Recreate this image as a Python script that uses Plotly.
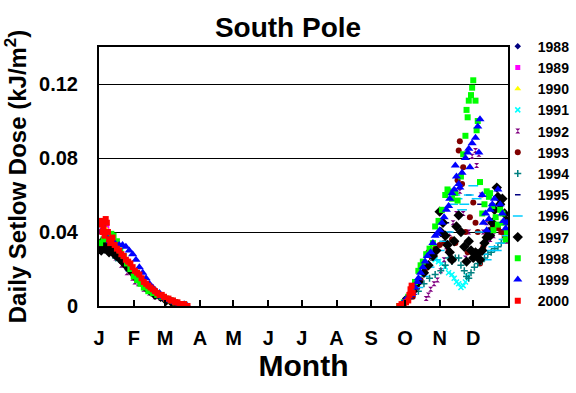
import plotly.graph_objects as go

# ---- axis labels ----
month_days = [0, 31, 59, 90, 120, 151, 181, 212, 243, 273, 304, 334]
month_labels = ["J", "F", "M", "A", "M", "J", "J", "A", "S", "O", "N", "D"]
y_ticks = [0, 0.04, 0.08, 0.12]
y_ticktext = ["0", "0.04", "0.08", "0.12"]

years = ["1988", "1989", "1990", "1991", "1992", "1993", "1994", "1995",
         "1996", "1997", "1998", "1999", "2000"]

# ---- data: day of year, daily Setlow dose (kJ/m2) ----
d1988_day = [2, 5, 8, 12, 16]
d1988_val = [0.032, 0.034, 0.031, 0.030, 0.028]

d1989_day = [3, 7, 11, 40, 46]
d1989_val = [0.041, 0.043, 0.035, 0.013, 0.010]

d1990_day = [2, 6, 10, 42, 50]
d1990_val = [0.044, 0.042, 0.034, 0.012, 0.009]

d1991_day = [1, 5, 10, 300, 303, 306, 309, 312, 315, 317, 319, 321, 323, 325, 327, 329]
d1991_val = [0.030, 0.031, 0.029, 0.025, 0.024, 0.023, 0.021, 0.018, 0.017, 0.015,
             0.013, 0.012, 0.010, 0.011, 0.013, 0.016]

d1992_day = [1, 5, 10, 15, 20, 25, 30, 32, 35, 40, 45, 50, 55, 60,
             292, 294, 296, 299, 302, 305, 308, 310, 313, 316, 319, 322, 325, 327,
             330, 333, 336, 337, 339, 341, 343, 346, 349, 352, 355, 358, 361, 364]
d1992_val = [0.030, 0.031, 0.029, 0.026, 0.022, 0.018, 0.015, 0.013, 0.012, 0.009,
             0.007, 0.005, 0.004, 0.003,
             0.004, 0.006, 0.009, 0.012, 0.014, 0.019, 0.025, 0.032, 0.039, 0.045,
             0.050, 0.062, 0.050, 0.026, 0.040, 0.081, 0.084, 0.076, 0.082, 0.060,
             0.040, 0.045, 0.036, 0.038, 0.042, 0.040, 0.038, 0.035]

d1993_day = [2, 8, 14, 20, 280, 284, 287, 291, 294, 297, 300, 304, 308, 312, 315, 318,
             320, 321, 322, 324, 325, 327, 329, 331, 334, 336, 338, 340, 343, 346,
             349, 351, 353, 356, 359, 362]
d1993_val = [0.031, 0.030, 0.027, 0.024, 0.005, 0.010, 0.014, 0.020, 0.029, 0.026,
             0.031, 0.033, 0.034, 0.030, 0.036, 0.034, 0.068, 0.084, 0.089, 0.066,
             0.075, 0.040, 0.029, 0.048, 0.056, 0.045, 0.040, 0.023, 0.032, 0.038,
             0.040, 0.042, 0.044, 0.042, 0.040, 0.038]

d1994_day = [3, 9, 15, 285, 290, 295, 300, 305, 309, 312, 315, 318, 321, 323, 326, 328,
             330, 332, 335, 338, 341, 344, 347, 350, 353, 356, 359, 362]
d1994_val = [0.030, 0.029, 0.026, 0.008, 0.012, 0.015, 0.017, 0.019, 0.022, 0.026,
             0.024, 0.026, 0.026, 0.022, 0.019, 0.016, 0.015, 0.018, 0.021, 0.023,
             0.024, 0.026, 0.028, 0.029, 0.031, 0.032, 0.034, 0.036]

d1995_day = [300, 310, 320, 330, 340, 350]
d1995_val = [0.030, 0.045, 0.070, 0.060, 0.055, 0.045]

d1996_day = [4, 12, 21, 28, 285, 290, 295, 300, 304, 308, 312, 316, 318, 320, 324, 326,
             330, 334, 337, 340, 343, 346, 349, 352, 355, 358, 361, 364]
d1996_val = [0.031, 0.030, 0.024, 0.019, 0.010, 0.016, 0.021, 0.025, 0.030, 0.035,
             0.040, 0.055, 0.060, 0.058, 0.052, 0.055, 0.060, 0.065, 0.058, 0.040,
             0.028, 0.025, 0.030, 0.032, 0.030, 0.034, 0.036, 0.038]

d1997_day = [1, 2, 3, 5, 6, 7, 9, 10, 12, 14, 16, 18, 21, 24, 27, 30, 34, 38, 42, 46,
             50, 55, 60, 65, 70,
             275, 280, 285, 290, 294, 298, 301, 304, 305, 307, 309, 311, 313, 315, 317,
             319, 321, 323, 326, 328, 330, 332, 334, 336, 338, 340, 342, 344, 346, 348,
             349, 351, 353, 355, 356, 358, 360, 362, 364]
d1997_val = [0.033, 0.030, 0.035, 0.031, 0.034, 0.032, 0.029, 0.031, 0.030, 0.028,
             0.027, 0.026, 0.024, 0.022, 0.020, 0.018, 0.015, 0.013, 0.010, 0.008,
             0.006, 0.005, 0.003, 0.002, 0.001,
             0.004, 0.008, 0.013, 0.018, 0.022, 0.027, 0.030, 0.051, 0.040, 0.045,
             0.038, 0.033, 0.029, 0.025, 0.035, 0.043, 0.049, 0.040, 0.032, 0.024,
             0.035, 0.030, 0.026, 0.029, 0.028, 0.025, 0.030, 0.034, 0.037, 0.040,
             0.038, 0.045, 0.052, 0.064, 0.059, 0.055, 0.058, 0.050, 0.046]

d1998_day = [1, 4, 8, 11, 13, 16, 19, 22, 25, 28, 31, 34, 37, 40, 44, 48, 52, 56, 60,
             64, 68, 72, 76,
             268, 272, 276, 279, 282, 285, 287, 289, 292, 295, 298, 300, 303, 306, 309,
             311, 312, 315, 318, 320, 323, 325, 327, 328, 329, 330, 332, 333, 334, 336,
             337, 338, 340, 342, 344, 346, 348, 349, 351, 352, 354, 356, 358, 360, 361,
             363, 364]
d1998_val = [0.034, 0.036, 0.037, 0.039, 0.038, 0.035, 0.030, 0.027, 0.023, 0.020,
             0.016, 0.014, 0.012, 0.010, 0.008, 0.007, 0.006, 0.005, 0.004, 0.003,
             0.002, 0.001, 0.001,
             0.000, 0.002, 0.005, 0.009, 0.013, 0.019, 0.022, 0.024, 0.028, 0.031,
             0.034, 0.043, 0.046, 0.052, 0.060, 0.063, 0.062, 0.058, 0.061, 0.057,
             0.070, 0.082, 0.092, 0.106, 0.102, 0.111, 0.114, 0.118, 0.122, 0.111,
             0.095, 0.100, 0.067, 0.050, 0.055, 0.062, 0.059, 0.061, 0.054, 0.041,
             0.048, 0.044, 0.052, 0.050, 0.045, 0.036, 0.040]

d1999_day = [1, 3, 6, 10, 14, 18, 21, 24, 27, 30, 33, 36, 39, 42, 45, 48, 51, 54, 57,
             60, 64, 68, 72, 76, 79,
             270, 273, 276, 278, 280, 282, 284, 285, 287, 289, 291, 293, 296, 298, 300,
             302, 304, 306, 308, 310, 312, 313, 315, 317, 318, 319, 321, 322, 324, 327,
             329, 330, 331, 333, 336, 338, 339, 340, 342, 343, 345, 346, 348, 349, 351,
             353, 356, 358, 360, 361, 363, 364]
d1999_val = [0.040, 0.044, 0.038, 0.035, 0.034, 0.033, 0.033, 0.032, 0.030, 0.028,
             0.025, 0.021, 0.018, 0.015, 0.012, 0.010, 0.008, 0.007, 0.005, 0.004,
             0.003, 0.002, 0.001, 0.001, 0.000,
             0.001, 0.003, 0.005, 0.006, 0.007, 0.010, 0.013, 0.015, 0.018, 0.021,
             0.024, 0.027, 0.029, 0.034, 0.038, 0.039, 0.041, 0.045, 0.048, 0.052,
             0.054, 0.058, 0.061, 0.063, 0.076, 0.070, 0.066, 0.064, 0.072, 0.080,
             0.083, 0.085, 0.075, 0.088, 0.091, 0.097, 0.083, 0.101, 0.060, 0.045,
             0.050, 0.041, 0.047, 0.052, 0.055, 0.058, 0.063, 0.055, 0.050, 0.046,
             0.042, 0.045]

d2000_day = [1, 2, 3, 4, 5, 6, 7, 8, 9, 10, 11, 12, 14, 16, 18, 20, 22, 24, 26, 28,
             30, 32, 34, 36, 38, 40, 42, 44, 46, 48, 50, 52, 54, 56, 58, 60, 62, 64,
             66, 68, 70, 72, 74, 76, 78, 79,
             268, 270, 272, 274, 276, 277, 278, 279, 280]
d2000_val = [0.046, 0.044, 0.040, 0.042, 0.038, 0.047, 0.045, 0.040, 0.036, 0.034,
             0.036, 0.037, 0.033, 0.031, 0.030, 0.028, 0.027, 0.025, 0.024, 0.023,
             0.021, 0.019, 0.018, 0.017, 0.015, 0.013, 0.012, 0.011, 0.010, 0.009,
             0.008, 0.007, 0.006, 0.006, 0.005, 0.004, 0.004, 0.003, 0.003, 0.002,
             0.002, 0.001, 0.001, 0.001, 0.000, 0.000,
             0.000, 0.001, 0.001, 0.002, 0.003, 0.006, 0.009, 0.011, 0.007]

series_days = [d1988_day, d1989_day, d1990_day, d1991_day, d1992_day, d1993_day,
               d1994_day, d1995_day, d1996_day, d1997_day, d1998_day, d1999_day, d2000_day]
series_vals = [d1988_val, d1989_val, d1990_val, d1991_val, d1992_val, d1993_val,
               d1994_val, d1995_val, d1996_val, d1997_val, d1998_val, d1999_val, d2000_val]

# ---- styles ----
colors = ["#000080", "#FF00FF", "#FFFF00", "#00FFFF", "#800080", "#800000",
          "#008080", "#000080", "#00CCFF", "#000000", "#00FF00", "#0000FF", "#FF0000"]
symbols = ["diamond", "square", "triangle-up", "x-thin-open", "hourglass", "circle",
           "cross-thin-open", "line-ew-open", "line-ew-open", "diamond", "square",
           "triangle-up", "square"]
sizes = [5, 5, 6, 5, 5, 6, 5, 4, 7, 8, 6, 8, 6]

FONT = "Arial, Liberation Sans, sans-serif"

fig = go.Figure()
for yr, xs, ys, c, s, sz in zip(years, series_days, series_vals, colors, symbols, sizes):
    fig.add_trace(go.Scatter(
        x=xs, y=ys, mode="markers", name=yr,
        marker=dict(color=c, symbol=s, size=sz,
                    line=dict(color=c, width=1.5 if "open" in s else 0)),
    ))

fig.update_layout(
    width=576, height=393,
    margin=dict(l=99, r=68, t=47, b=87, autoexpand=False),
    paper_bgcolor="white", plot_bgcolor="white",
    title=dict(text="South Pole", x=0.5, xanchor="center", y=0.93, yanchor="middle",
               font=dict(family=FONT, size=28, color="black", weight="bold")),
    showlegend=True,
    legend=dict(x=0.975, xanchor="left", y=1.063, yanchor="top",
                bgcolor="rgba(0,0,0,0)", borderwidth=0, tracegroupgap=0,
                font=dict(family=FONT, size=14, color="black", weight="bold")),
    font=dict(family=FONT, color="black"),
)
try:
    fig.update_layout(legend_maxheight=385)
except Exception:
    pass

fig.update_xaxes(
    automargin=False,
    range=[0, 365], tickmode="array", tickvals=month_days, ticktext=month_labels,
    ticks="inside", ticklen=6, tickwidth=2, tickcolor="black",
    showline=True, linecolor="black", linewidth=2, mirror=True,
    showgrid=False, zeroline=False,
    tickfont=dict(family=FONT, size=20, color="black", weight="bold"),
    ticklabelstandoff=13,
    title=dict(text="Month", standoff=4,
               font=dict(family=FONT, size=30, color="black", weight="bold")),
)
fig.update_yaxes(
    automargin=False,
    range=[0, 0.14], tickmode="array", tickvals=y_ticks, ticktext=y_ticktext,
    ticks="", showline=True, linecolor="black", linewidth=2, mirror=True,
    showgrid=True, gridcolor="black", gridwidth=1, zeroline=False,
    tickfont=dict(family=FONT, size=20, color="black", weight="bold"),
    ticklabelstandoff=15,
    title=dict(text="Daily Setlow Dose (kJ/m<sup>2</sup>)", standoff=6,
               font=dict(family=FONT, size=24, color="black", weight="bold")),
)

fig.write_html("out.html", config={"displayModeBar": False},
               post_script="document.body.style.margin='0';document.body.style.overflow='hidden';")
